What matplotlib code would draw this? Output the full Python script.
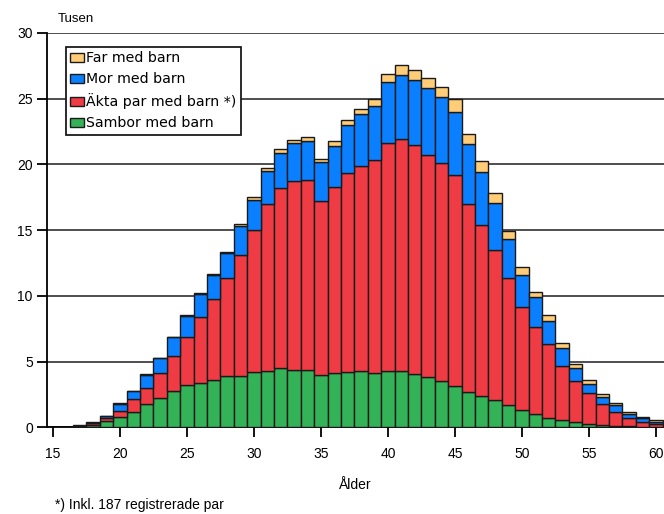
import matplotlib
matplotlib.use("Agg")
import matplotlib.pyplot as plt
import numpy as np

ages = list(range(17, 61))
sambor = [0.05, 0.2, 0.5, 0.8, 1.2, 1.75, 2.2, 2.8, 3.2, 3.4, 3.6, 3.9, 3.9, 4.2, 4.3, 4.55,
          4.4, 4.4, 3.95, 4.1, 4.25, 4.3, 4.15, 4.3, 4.3, 4.05, 3.8, 3.55, 3.15, 2.7, 2.35,
          2.1, 1.7, 1.35, 1.0, 0.75, 0.55, 0.4, 0.28, 0.18, 0.1, 0.07, 0.04, 0.02]
akta = [0.05, 0.1, 0.2, 0.45, 0.95, 1.27, 1.95, 2.65, 3.7, 5.0, 6.2, 7.5, 9.2, 10.8, 12.7,
        13.65, 14.35, 14.45, 13.3, 14.2, 15.1, 15.6, 16.2, 17.35, 17.6, 17.4, 16.9, 16.55,
        16.05, 14.3, 13.05, 11.4, 9.7, 7.8, 6.65, 5.6, 4.1, 3.1, 2.35, 1.62, 1.1, 0.67, 0.4, 0.22]
mor = [0.03, 0.07, 0.15, 0.55, 0.6, 0.97, 1.1, 1.4, 1.6, 1.75, 1.8, 1.9, 2.2, 2.3, 2.5, 2.65,
       2.85, 2.95, 2.9, 3.1, 3.65, 3.95, 4.1, 4.65, 4.9, 5.0, 5.15, 5.0, 4.8, 4.55, 4.05, 3.6,
       2.9, 2.45, 2.3, 1.75, 1.4, 1.0, 0.7, 0.53, 0.5, 0.3, 0.25, 0.2]
far = [0.02, 0.03, 0.05, 0.03, 0.05, 0.05, 0.05, 0.05, 0.05, 0.05, 0.05, 0.05, 0.15, 0.25,
       0.2, 0.3, 0.27, 0.3, 0.28, 0.38, 0.35, 0.35, 0.5, 0.6, 0.75, 0.7, 0.7, 0.8, 0.95, 0.8,
       0.8, 0.7, 0.65, 0.6, 0.38, 0.42, 0.4, 0.35, 0.25, 0.18, 0.12, 0.12, 0.1, 0.1]

series = [
    ("Sambor med barn", sambor, "#33B257"),
    ("Äkta par med barn *)", akta, "#EF3B44"),
    ("Mor med barn", mor, "#0A7FFF"),
    ("Far med barn", far, "#FFCC77"),
]

fig = plt.figure(figsize=(6.64, 5.14), dpi=100)
ax = fig.add_axes([0.0703, 0.1685, 0.9297, 0.7673])

x = np.array(ages)
bottom = np.zeros(len(ages))
handles = {}
for label, vals, col in series:
    v = np.array(vals)
    h = ax.bar(x, v, bottom=bottom, width=1.0, color=col, edgecolor="#1a1a1a",
               linewidth=1.0, label=label, zorder=3)
    handles[label] = h
    bottom += v

ax.set_xlim(14.53, 60.6)
ax.set_ylim(0, 30)
ax.set_yticks([0, 5, 10, 15, 20, 25, 30])
ax.set_xticks([15, 20, 25, 30, 35, 40, 45, 50, 55, 60])
ax.yaxis.grid(True, color="#404040", linewidth=1.3, zorder=0)
ax.set_axisbelow(True)
for s in ["top", "right"]:
    ax.spines[s].set_visible(False)
ax.spines["left"].set_linewidth(1.3)
ax.spines["bottom"].set_linewidth(1.3)
ax.spines["left"].set_zorder(4)
ax.tick_params(axis="both", direction="out", length=7, width=1.3, labelsize=10,
               colors="black", pad=3)
ax.tick_params(axis="x", pad=7)
for lab in ax.get_xticklabels() + ax.get_yticklabels():
    lab.set_fontfamily("Liberation Sans")

ax.set_xlabel("Ålder", fontsize=10, family="Liberation Sans", labelpad=12)
fig.text(58 / 664, 1 - 19 / 514, "Tusen", fontsize=9.5, family="Liberation Sans",
         va="center", ha="left")
fig.text(55 / 664, 1 - 505 / 514, "*) Inkl. 187 registrerade par", fontsize=10,
         family="Liberation Sans", va="center", ha="left")

order = ["Far med barn", "Mor med barn", "Äkta par med barn *)", "Sambor med barn"]
leg = ax.legend([handles[k] for k in order], order, loc="upper left",
                bbox_to_anchor=(0.031, 0.9645), borderaxespad=0, fancybox=False,
                frameon=True, edgecolor="#1a1a1a", framealpha=1,
                handlelength=1.0, handleheight=0.65, handletextpad=0.15,
                labelspacing=0.5, borderpad=0.3, prop={"family": "DejaVu Sans", "size": 10.2})
leg.get_frame().set_linewidth(1.3)
leg.set_zorder(5)

fig.savefig("out.png", dpi=100)
